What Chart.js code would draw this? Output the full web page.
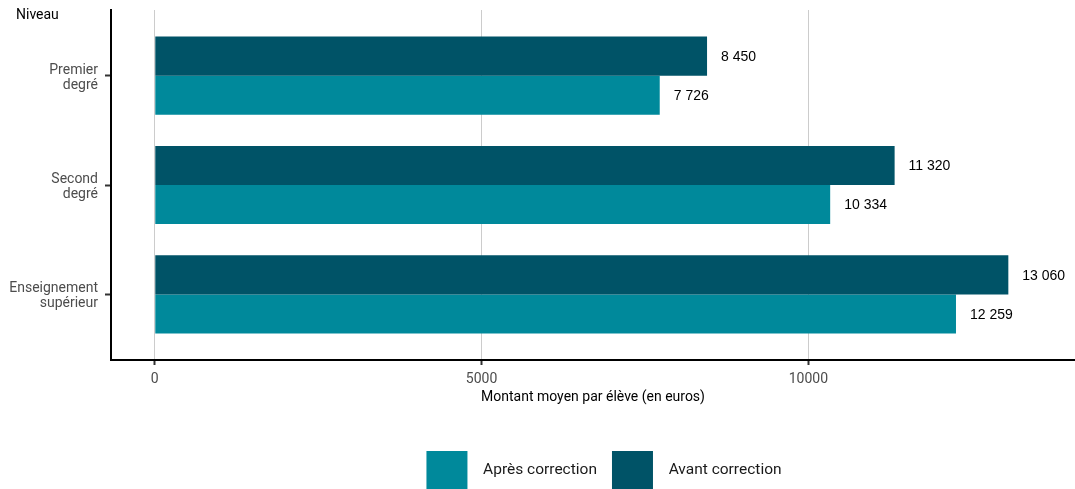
<!DOCTYPE html>
<html lang="fr">
<head>
<meta charset="utf-8">
<script src="https://cdn.jsdelivr.net/npm/chart.js@4.4.1/dist/chart.umd.min.js"></script>
<style>
  html, body { margin: 0; padding: 0; background: #fff; }
  #wrap { width: 1075px; height: 489px; position: relative; }
</style>
</head>
<body>
<div id="wrap"><canvas id="chart"></canvas></div>
<script>
// data
const categories = [['Premier', 'degré'], ['Second', 'degré'], ['Enseignement', 'supérieur']];
const avantCorrection = [8450, 11320, 13060];
const apresCorrection = [7726, 10334, 12259];
const xTicks = [0, 5000, 10000];

const DARK = '#005367';
const LIGHT = '#00899b';
const FONT = 'Roboto';

const fmt = v => String(v).replace(/\B(?=(\d{3})+(?!\d))/g, ' ');

// value labels at the end of each bar + the "Niveau" heading
const labelsPlugin = {
    id: 'barLabels',
    afterLayout(chart) {
        // nudge the legend to sit where the reference puts it
        chart.legend.left += 22;
    },
    afterDatasetsDraw(chart) {
        const ctx = chart.ctx;
        ctx.save();
        ctx.font = '14px "Liberation Sans", Arial, sans-serif';
        ctx.fillStyle = '#000';
        ctx.textAlign = 'left';
        ctx.textBaseline = 'middle';
        chart.data.datasets.forEach((ds, di) => {
            chart.getDatasetMeta(di).data.forEach((bar, i) => {
                ctx.fillText(fmt(ds.data[i].x), bar.x + 14, bar.y + 1);
            });
        });
        ctx.font = '14px ' + FONT;
        ctx.fillText('Niveau', 16, 15);
        ctx.restore();
    }
};

const toPoints = arr => arr.map((v, i) => ({ x: v, y: i }));

new Chart(document.getElementById('chart'), {
    type: 'bar',
    data: {
        datasets: [
            { label: 'Avant correction', data: toPoints(avantCorrection), backgroundColor: DARK, borderWidth: 0 },
            { label: 'Après correction', data: toPoints(apresCorrection), backgroundColor: LIGHT, borderWidth: 0 }
        ]
    },
    options: {
        indexAxis: 'y',
        responsive: true,
        maintainAspectRatio: false,
        animation: false,
        layout: { padding: { top: 10, left: 10, right: 0, bottom: 0 } },
        datasets: { bar: { categoryPercentage: 0.715, barPercentage: 1 } },
        scales: {
            x: {
                type: 'linear',
                min: -670,
                max: 14080,
                afterBuildTicks: s => { s.ticks = xTicks.map(v => ({ value: v })); },
                afterFit: s => { s.height = 76; s.paddingLeft = 0; s.paddingRight = 0; },
                grid: { color: '#cccccc', lineWidth: 1, tickColor: '#333333', tickWidth: 2, tickLength: 5 },
                border: { display: true, color: '#000', width: 2 },
                ticks: {
                    color: '#4d4d4d',
                    font: { family: FONT, size: 14 },
                    padding: 6,
                    maxRotation: 0,
                    callback: v => String(v)
                },
                title: {
                    display: true,
                    text: 'Montant moyen par élève (en euros)',
                    color: '#000',
                    font: { family: FONT, size: 14 },
                    padding: { top: 0, bottom: 30 }
                }
            },
            y: {
                type: 'linear',
                min: -0.6,
                max: 2.6,
                reverse: true,
                offset: false,
                afterBuildTicks: s => { s.ticks = categories.map((_, i) => ({ value: i })); },
                afterFit: s => { s.width = 101; s.paddingTop = 0; s.paddingBottom = 0; },
                grid: { offset: false, drawOnChartArea: false, tickColor: '#333333', tickWidth: 2, tickLength: 6 },
                border: { display: true, color: '#000', width: 2 },
                ticks: {
                    color: '#4d4d4d',
                    font: { family: FONT, size: 14, lineHeight: 1.07 },
                    padding: 7,
                    labelOffset: 2,
                    callback: v => categories[v]
                }
            }
        },
        plugins: {
            legend: {
                position: 'bottom',
                fullSize: false,
                reverse: true,
                maxHeight: 53,
                labels: {
                    boxWidth: 41,
                    boxHeight: 38,
                    padding: 15,
                    color: '#1a1a1a',
                    font: { family: FONT, size: 15.5 },
                    generateLabels: chart => Chart.defaults.plugins.legend.labels.generateLabels(chart)
                        .map(l => ({ ...l, text: '\u2002' + l.text }))
                }
            },
            tooltip: { enabled: false }
        }
    },
    plugins: [labelsPlugin]
});
</script>
</body>
</html>
